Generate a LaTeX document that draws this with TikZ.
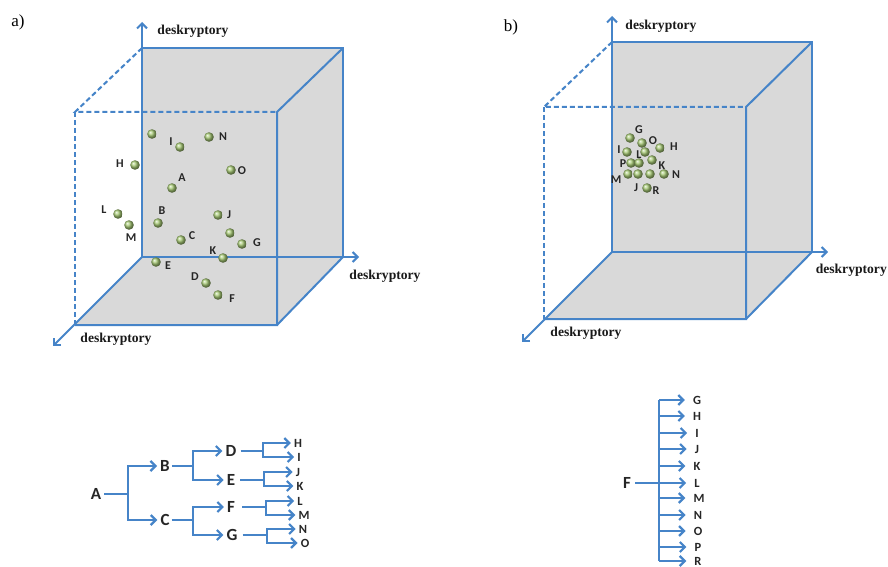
\documentclass[tikz,border=0pt]{standalone}
\usepackage{fontspec}
\setmainfont{Liberation Serif}
\setsansfont{Carlito}
\usetikzlibrary{arrows.meta}
\definecolor{ln}{RGB}{70,132,200}
\definecolor{fc}{RGB}{217,217,217}
\definecolor{bc}{RGB}{165,200,115}
\begin{document}
\begin{tikzpicture}[x=1pt,y=-1pt,
  edge/.style={ln, line width=2pt},
  tedge/.style={ln, line width=2.2pt},
  dsh/.style={edge, dash pattern=on 5pt off 3pt},
  axis/.style={edge, -{Straight Barb[length=5pt,width=10pt]}},
  arr/.style={tedge, -{Straight Barb[length=5pt,width=10pt]}, shorten >=3pt},
  arrb/.style={tedge, -{Straight Barb[length=5pt,width=10pt]}, shorten >=8pt},
  face/.style={fill=fc, draw=none},
  ax/.style={font=\bfseries\fontsize{13.6}{14}\selectfont, inner sep=0pt, text=black!90},
  pl/.style={font=\sffamily\bfseries\fontsize{12}{12}\selectfont, inner sep=0pt, text=black!85},
  big/.style={font=\sffamily\bfseries\fontsize{17}{17}\selectfont, inner sep=0pt, text=black!85},
  small/.style={font=\sffamily\bfseries\fontsize{12.5}{12.5}\selectfont, inner sep=0pt, text=black!85},
  tag/.style={font=\fontsize{17}{17}\selectfont, inner sep=0pt}
]
\useasboundingbox (0,0) rectangle (888,567);

% ================= cube a =================
\coordinate (a1) at (142,48);  \coordinate (a2) at (343,48);
\coordinate (a3) at (343,257); \coordinate (a4) at (142,257);
\coordinate (a5) at (75,112);  \coordinate (a6) at (277,112);
\coordinate (a7) at (277,325); \coordinate (a8) at (75,325);
\fill[face] (a1) -- (a2) -- (a3) -- (a4) -- cycle;
\fill[face] (a2) -- (a6) -- (a7) -- (a3) -- cycle;
\fill[face] (a4) -- (a3) -- (a7) -- (a8) -- cycle;
\draw[edge] (a1) -- (a2) -- (a3);
\draw[edge] (a2) -- (a6) -- (a7) -- (a8);
\draw[edge] (a3) -- (a7);
\draw[dsh] (a1) -- (a5) -- (a6);
\draw[dsh] (a5) -- (a8);
\coordinate (aZ) at (142,22);
\coordinate (aX) at (359,257);
\coordinate (aY) at (53,346);
\draw[axis] (a4) -- (aZ);
\draw[axis] (a4) -- (aX);
\draw[axis] (a4) -- (aY);
\node[ax] (aLz) at (193,31) {deskryptory};
\node[ax] (aLx) at (385,276) {deskryptory};
\node[ax] (aLy) at (116,339) {deskryptory};
\node[tag] (ta) at (18,22) {a)};

\foreach \p in {(152,134),(180,147),(209,137),(135,165),(231,170),(172,188),(118,214),(129,225),(158,223),(218,215),(230,233),(242,244),(181,240),(223,258),(156,262),(206,283),(218,295)}
  \shade[ball color=bc] \p circle[radius=4.8pt];
\node[pl] (paI) at (171,142) {I};
\node[pl] (paN) at (223,137) {N};
\node[pl] (paH) at (120,164) {H};
\node[pl] (paO) at (242,171) {O};
\node[pl] (paA) at (182,178) {A};
\node[pl] (paL) at (104,210) {L};
\node[pl] (paM) at (131,238) {M};
\node[pl] (paB) at (162,211) {B};
\node[pl] (paJ) at (229,215) {J};
\node[pl] (paG) at (257,243) {G};
\node[pl] (paC) at (192,236) {C};
\node[pl] (paK) at (213,251) {K};
\node[pl] (paE) at (168,266) {E};
\node[pl] (paD) at (195,277) {D};
\node[pl] (paF) at (232,299) {F};

% ================= cube b =================
\coordinate (b1) at (612,42);  \coordinate (b2) at (812,42);
\coordinate (b3) at (812,252); \coordinate (b4) at (612,252);
\coordinate (b5) at (544,107); \coordinate (b6) at (746,107);
\coordinate (b7) at (746,319); \coordinate (b8) at (544,319);
\fill[face] (b1) -- (b2) -- (b3) -- (b4) -- cycle;
\fill[face] (b2) -- (b6) -- (b7) -- (b3) -- cycle;
\fill[face] (b4) -- (b3) -- (b7) -- (b8) -- cycle;
\draw[edge] (b1) -- (b2) -- (b3);
\draw[edge] (b2) -- (b6) -- (b7) -- (b8);
\draw[edge] (b3) -- (b7);
\draw[dsh] (b1) -- (b5) -- (b6);
\draw[dsh] (b5) -- (b8);
\coordinate (bZ) at (612,16);
\coordinate (bX) at (828,252);
\coordinate (bY) at (522,342);
\draw[axis] (b4) -- (bZ);
\draw[axis] (b4) -- (bX);
\draw[axis] (b4) -- (bY);
\node[ax] (bLz) at (661,26) {deskryptory};
\node[ax, anchor=east] (bLx) at (887,270) {deskryptory};
\node[ax] (bLy) at (586,333) {deskryptory};
\node[tag] (tb) at (511,27) {b)};

\foreach \p in {(630,138),(642,143),(660,148),(627,152),(645,152),(652,160),(631,163),(639,163),(628,174),(638,174),(650,174),(664,174),(647,188)}
  \shade[ball color=bc] \p circle[radius=4.8pt];
\node[pl] (pbG) at (639,130) {G};
\node[pl] (pbO) at (653,141) {O};
\node[pl] (pbH) at (674,147) {H};
\node[pl] (pbI) at (619,150) {I};
\node[pl] (pbL) at (639,155) {L};
\node[pl] (pbK) at (662,166) {K};
\node[pl] (pbP) at (623,164) {P};
\node[pl] (pbM) at (616,180) {M};
\node[pl] (pbN) at (676,175) {N};
\node[pl] (pbJ) at (636,188) {J};
\node[pl] (pbR) at (656,191) {R};

% ================= tree a =================
\node[big] (tA) at (96,494) {A};
\node[big] (tB) at (165,466) {B};
\node[big] (tC) at (165,520) {C};
\node[big] (tD) at (231,451) {D};
\node[big] (tE) at (231,480) {E};
\node[big] (tF) at (231,507) {F};
\node[big] (tG) at (232,535) {G};
\node[small] (tH) at (298,443) {H};
\node[small] (tI) at (299,457) {I};
\node[small] (tJ) at (298,472) {J};
\node[small] (tK) at (300,486) {K};
\node[small] (tL) at (300,501) {L};
\node[small] (tM) at (304,515) {M};
\node[small] (tN) at (303,529) {N};
\node[small] (tO) at (305,543) {O};
\coordinate (jA) at (128,494);
\coordinate (jB) at (193,466);
\coordinate (jC) at (193,520);
\coordinate (jD) at (263,451);
\coordinate (jE) at (264,480);
\coordinate (jF) at (266,507);
\coordinate (jG) at (267,535);
\draw[tedge] ([xshift=3pt]tA.east) -- (jA);
\draw[arr] (jA) |- (tB.west);
\draw[arr] (jA) |- (tC.west);
\draw[tedge] ([xshift=2pt]tB.east) -- (jB);
\draw[arr] (jB) |- (tD.west);
\draw[arr] (jB) |- (tE.west);
\draw[tedge] ([xshift=2pt]tC.east) -- (jC);
\draw[arr] (jC) |- (tF.west);
\draw[arr] (jC) |- (tG.west);
\draw[tedge] ([xshift=4pt]tD.east) -- (jD);
\draw[arr] (jD) |- (tH.west);
\draw[arr] (jD) |- (tI.west);
\draw[tedge] ([xshift=5pt]tE.east) -- (jE);
\draw[arr] (jE) |- (tJ.west);
\draw[arr] (jE) |- (tK.west);
\draw[tedge] ([xshift=7pt]tF.east) -- (jF);
\draw[arr] (jF) |- (tL.west);
\draw[arr] (jF) |- (tM.west);
\draw[tedge] ([xshift=5pt]tG.east) -- (jG);
\draw[arr] (jG) |- (tN.west);
\draw[arr] (jG) |- (tO.west);

% ================= tree b =================
\node[big] (uF) at (627,483) {F};
\node[small] (uG) at (697,400) {G};
\node[small] (uH) at (697,416) {H};
\node[small] (uI) at (697,433) {I};
\node[small] (uJ) at (697,449) {J};
\node[small] (uK) at (697,466) {K};
\node[small] (uL) at (697,483) {L};
\node[small] (uM) at (699,498) {M};
\node[small] (uN) at (698,515) {N};
\node[small] (uO) at (698,531) {O};
\node[small] (uP) at (698,547) {P};
\node[small] (uR) at (698,561) {R};
\coordinate (vx) at (659,0);
\draw[tedge] (vx |- uG) -- (vx |- uR);
\foreach \n in {uG,uH,uI,uJ,uK,uM,uN,uO,uP,uR}
  \draw[arrb] (vx |- \n.west) -- (\n.west);
\draw[arrb] ([xshift=4pt]uF.east) -- (uL.west);
\end{tikzpicture}
\end{document}
